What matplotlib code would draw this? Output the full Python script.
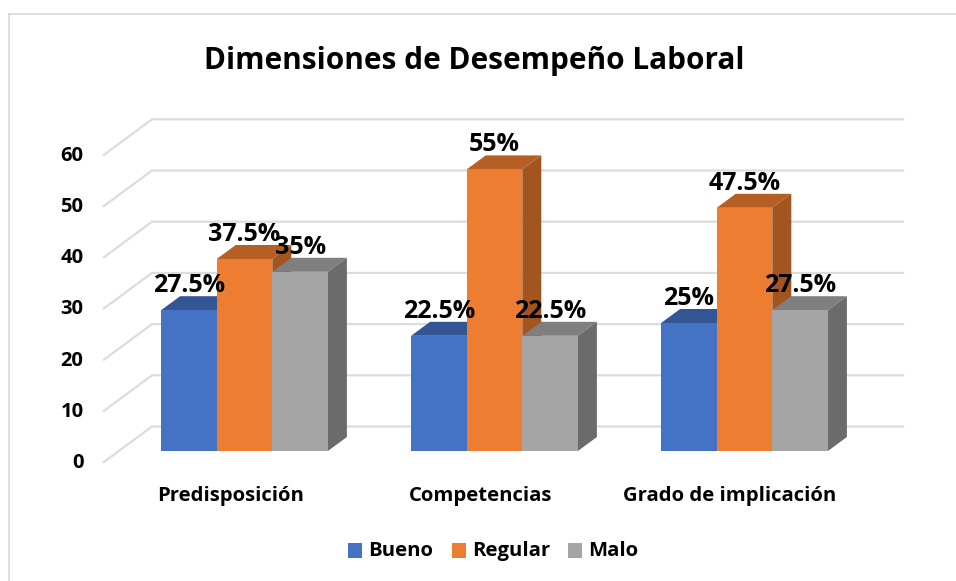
import matplotlib
matplotlib.use("Agg")
import matplotlib.pyplot as plt
from matplotlib.patches import Polygon, Rectangle
import numpy as np

plt.rcParams['font.family'] = ['Open Sans', 'DejaVu Sans']

categories = ["Predisposición", "Competencias", "Grado de implicación"]
bueno = [27.5, 22.5, 25]
regular = [37.5, 55, 47.5]
malo = [35, 22.5, 27.5]
bueno_labels = ["27.5%", "22.5%", "25%"]
regular_labels = ["37.5%", "55%", "47.5%"]
malo_labels = ["35%", "22.5%", "27.5%"]
y_ticks = [0, 10, 20, 30, 40, 50, 60]

W, H = 956, 581
px_per_unit = 5.12
group_step = 250.0
base_y = 451.0
first_center = 244.5
bar_w = 55.6 / group_step
depth_x = 19 / group_step
depth_y = 14 / px_per_unit


# pixel position -> data value, axes fill the whole figure
def to_x(px):
    return (px - first_center) / group_step


def to_y(py):
    return (base_y - py) / px_per_unit


fig = plt.figure(figsize=(W / 100, H / 100), dpi=100)
ax = fig.add_axes([0, 0, 1, 1])
ax.set_xlim(to_x(0), to_x(W))
ax.set_ylim(to_y(H), to_y(0))
ax.axis('off')

# chart border
border = '#d9d9d9'
ax.plot([to_x(9), to_x(9)], [to_y(581), to_y(14)], color=border, lw=1.2)
ax.plot([to_x(9), to_x(956)], [to_y(14), to_y(14)], color=border, lw=1.2)

# gridlines run along the floor then across the back wall
grid_color = '#dcdcdc'
for t in y_ticks:
    y_front = t + to_y(462)
    y_back = t + to_y(426.5)
    ax.plot([to_x(104), to_x(152), to_x(903)], [y_front, y_back, y_back],
            color=grid_color, lw=1.6, zorder=1, solid_joinstyle='miter')
    ax.text(to_x(83.5), t + to_y(463), str(t), ha='right', va='center',
            fontsize=14.5, fontweight='bold', color='black', zorder=6)

series = [
    (bueno, bueno_labels, '#4472c4', '#335593', '#2f5597'),
    (regular, regular_labels, '#ed7d31', '#b55f25', '#a3551f'),
    (malo, malo_labels, '#a5a5a5', '#7f7f7f', '#6b6b6b'),
]
x = np.arange(len(categories))

for i, (vals, labels, front, top, side) in enumerate(series):
    xs = x + (i - 1) * bar_w
    ax.bar(xs, vals, width=bar_w, color=front, zorder=3 + i * 0.1, linewidth=0)
    for xc, v in zip(xs, vals):
        l = xc - bar_w / 2
        r = xc + bar_w / 2
        ax.add_patch(Polygon([(l, v), (r, v), (r + depth_x, v + depth_y), (l + depth_x, v + depth_y)],
                             closed=True, fc=top, ec='none', zorder=2.5 + i * 0.1))
        ax.add_patch(Polygon([(r, 0), (r + depth_x, depth_y), (r + depth_x, v + depth_y), (r, v)],
                             closed=True, fc=side, ec='none', zorder=2.5 + i * 0.1))

label_dy = 3.5
for i, (vals, labels, front, top, side) in enumerate(series):
    xs = x + (i - 1) * bar_w
    for xc, v, s in zip(xs, vals, labels):
        ax.text(xc + depth_x / 2 - 0.038, v + label_dy, s, ha='center', va='baseline',
                fontsize=18, fontweight='bold', color='black', zorder=7)

# category names
cat_px = [230.5, 481, 730]
for px, name in zip(cat_px, categories):
    ax.text(to_x(px), to_y(496), name, ha='center', va='center',
            fontsize=14.6, fontweight='bold', color='black')

ax.text(to_x(474.5), to_y(61), "Dimensiones de Desempeño Laboral", ha='center', va='center',
        fontsize=21.4, fontweight='bold', color='black')

# legend
legend_names = ["Bueno", "Regular", "Malo"]
legend_colors = ['#4472c4', '#ed7d31', '#a5a5a5']
legend_box = [348, 452, 568]
legend_text = [368, 472, 588]
for bx, tx, name, c in zip(legend_box, legend_text, legend_names, legend_colors):
    ax.add_patch(Rectangle((to_x(bx), to_y(558)), 14 / group_step, 15 / px_per_unit,
                           fc=c, ec='none'))
    ax.text(to_x(tx), to_y(551), name, ha='left', va='center',
            fontsize=14.6, fontweight='bold', color='black')

fig.savefig('out.png', dpi=100)
